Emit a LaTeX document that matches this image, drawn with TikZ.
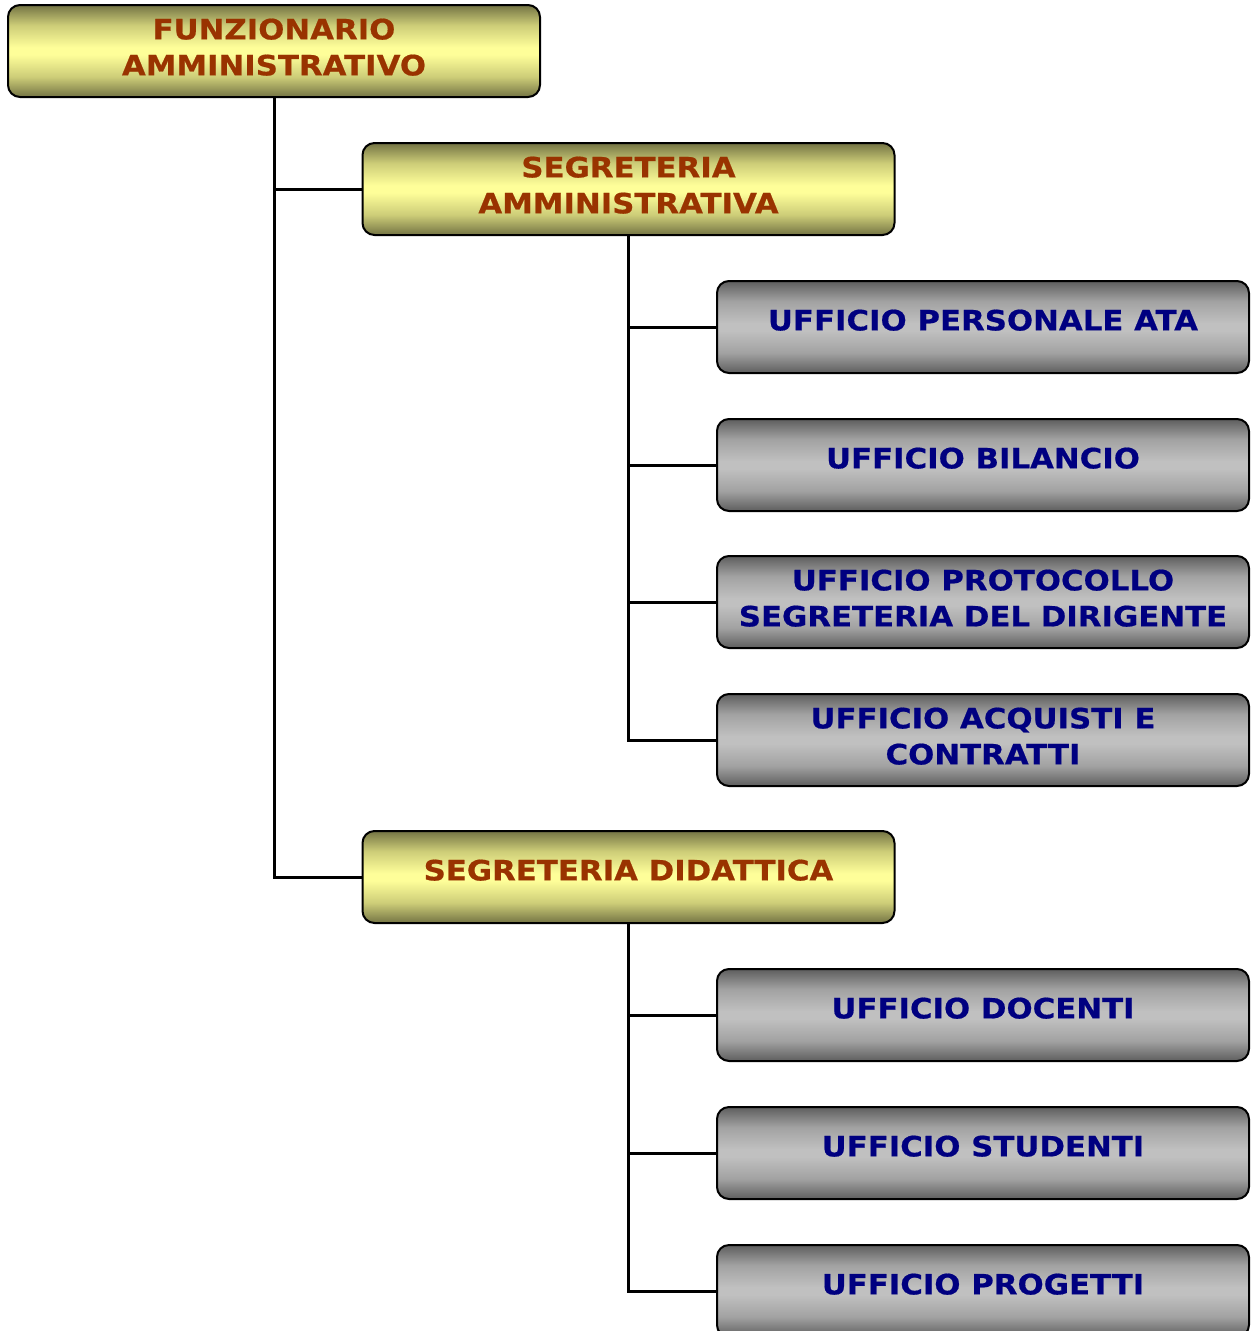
\documentclass[tikz,border=0pt]{standalone}
\usepackage{fontspec}
\setmainfont{DejaVu Sans}
\newfontfamily\boxfont[FakeStretch=1.1,BoldFeatures={FakeStretch=1.1,FakeBold=0.6}]{DejaVu Sans}
\usetikzlibrary{fadings}
\definecolor{ytxt}{HTML}{993300}
\definecolor{gtxt}{HTML}{000080}
\definecolor{ydark}{RGB}{116,116,68}
\definecolor{ymid}{RGB}{205,205,120}
\definecolor{ylight}{RGB}{254,254,153}
\definecolor{gdark}{RGB}{94,94,94}
\definecolor{gmid}{RGB}{162,162,162}
\definecolor{glight}{RGB}{192,192,192}
\pgfdeclareverticalshading{yshade}{100bp}{color(0bp)=(ydark); color(25bp)=(ydark); color(36bp)=(ymid); color(48bp)=(ylight); color(52bp)=(ylight); color(64bp)=(ymid); color(75bp)=(ydark); color(100bp)=(ydark)}
\pgfdeclareverticalshading{gshade}{100bp}{color(0bp)=(gdark); color(25bp)=(gdark); color(36bp)=(gmid); color(48bp)=(glight); color(52bp)=(glight); color(64bp)=(gmid); color(75bp)=(gdark); color(100bp)=(gdark)}
\pgfdeclarehorizontalshading{sideshade}{100bp}{color(0bp)=(gray!60!black); color(25bp)=(gray!60!black); color(29bp)=(black); color(71bp)=(black); color(75bp)=(gray!60!black); color(100bp)=(gray!60!black)}
\pgfdeclarefading{sidefade}{\tikz \shade[shading=sideshade] (-50bp,-50bp) rectangle (50bp,50bp);}
\newcommand\dn{\rule[-8pt]{0pt}{8pt}}
\newcommand\dnn{\rule[-14pt]{0pt}{14pt}}
\begin{document}
\begin{tikzpicture}[x=1pt,y=1pt,
  boxbase/.style={rounded corners=12pt, draw=black, line width=2pt,
    minimum width=532pt, minimum height=92pt, inner sep=0pt, align=center,
    font=\boxfont\bfseries\fontsize{28}{36}\selectfont},
  ybox/.style={boxbase, shade, shading=yshade, text=ytxt},
  gbox/.style={boxbase, shade, shading=gshade, text=gtxt},
  conn/.style={draw=black, line width=3pt}]
\useasboundingbox (0,0) rectangle (1251,-1331);
\clip (0,0) rectangle (1251,-1331);
\node[ybox] (top) at (274,-51) {FUNZIONARIO\\AMMINISTRATIVO\dn};
\node[ybox] (sa) at (628.5,-189) {SEGRETERIA\\AMMINISTRATIVA\dn};
\node[gbox] (g1) at (983,-327) {UFFICIO PERSONALE ATA\dnn};
\node[gbox] (g2) at (983,-465) {UFFICIO BILANCIO\dnn};
\node[gbox] (g3) at (983,-602) {UFFICIO PROTOCOLLO\\SEGRETERIA DEL DIRIGENTE\dn};
\node[gbox] (g4) at (983,-740) {UFFICIO ACQUISTI E\\CONTRATTI\dn};
\node[ybox] (sd) at (628.5,-877) {SEGRETERIA DIDATTICA\dnn};
\node[gbox] (g5) at (983,-1015) {UFFICIO DOCENTI\dnn};
\node[gbox] (g6) at (983,-1153) {UFFICIO STUDENTI\dnn};
\node[gbox] (g7) at (983,-1291) {UFFICIO PROGETTI\dnn};
\foreach \n in {top,sa,sd}
  \fill[ydark, path fading=sidefade, fit fading=true, rounded corners=12pt] (\n.south west) rectangle (\n.north east);
\foreach \n in {g1,g2,g3,g4,g5,g6,g7}
  \fill[gdark, path fading=sidefade, fit fading=true, rounded corners=12pt] (\n.south west) rectangle (\n.north east);
\draw[conn] (top.south) |- (sa.west);
\draw[conn] (top.south) |- (sd.west);
\draw[conn] (sa.south) |- (g1.west);
\draw[conn] (sa.south) |- (g2.west);
\draw[conn] (sa.south) |- (g3.west);
\draw[conn] (sa.south) |- (g4.west);
\draw[conn] (sd.south) |- (g5.west);
\draw[conn] (sd.south) |- (g6.west);
\draw[conn] (sd.south) |- (g7.west);
\end{tikzpicture}
\end{document}
